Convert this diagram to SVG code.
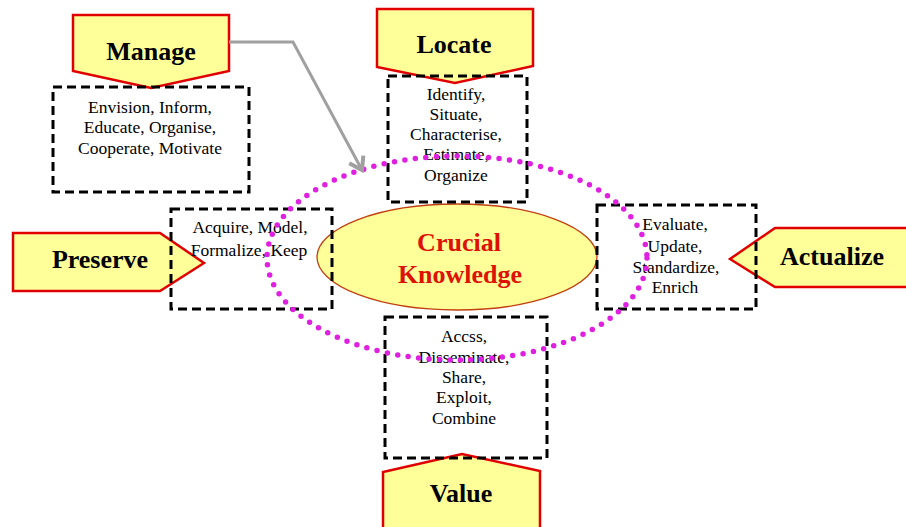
<svg xmlns="http://www.w3.org/2000/svg" width="906" height="527" viewBox="0 0 906 527">
<style>
.bg{fill:#ffffff}
.tag{fill:#ffff99;stroke:#e00000;stroke-width:2.5;stroke-linejoin:miter}
.box{fill:none;stroke:#000000;stroke-width:3;stroke-dasharray:9 5}
.hd{font-weight:bold;font-size:26px;fill:#000000;text-anchor:middle}
.tx{font-size:17.5px;fill:#000000;text-anchor:middle}
.core{fill:#ffff99;stroke:#c04010;stroke-width:1.3}
.coretx{font-weight:bold;font-size:26px;fill:#dd1100;text-anchor:middle}
.ring{fill:none;stroke:#e020e0;stroke-width:5.5;stroke-dasharray:0 10.5;stroke-linecap:round}
.conn{fill:none;stroke:#a0a0a0;stroke-width:3}
</style>
<defs>
<marker id="arr" markerUnits="userSpaceOnUse" markerWidth="30" markerHeight="30" viewBox="-4 -4 30 30" refX="14" refY="8" orient="auto">
<path d="M2,0 L14,8 L2,16" fill="none" stroke="#a0a0a0" stroke-width="4"/>
</marker>
</defs>
<rect class="bg" x="0" y="0" width="906" height="527"/>
<g font-family="Liberation Serif, DejaVu Serif, serif">
<g id="core">
<ellipse class="core" cx="457" cy="257" rx="140" ry="53"/>
<text class="coretx" x="459" y="251">Crucial</text>
<text class="coretx" x="460" y="283">Knowledge</text>
</g>

<g id="manage">
<polygon class="tag" points="73,15 229,15 229,71 151,88 73,71"/>
<text class="hd" x="151" y="60">Manage</text>
<rect class="box" x="53" y="87" width="196" height="105"/>
<text class="tx" x="150" y="113">Envision, Inform,</text>
<text class="tx" x="150" y="133">Educate, Organise,</text>
<text class="tx" x="150" y="154">Cooperate, Motivate</text>
</g>

<g id="locate">
<polygon class="tag" points="377,9 533,9 533,66 455,83 377,67"/>
<text class="hd" x="454" y="53">Locate</text>
<rect class="box" x="388" y="76" width="139" height="126"/>
<text class="tx" x="456" y="100">Identify,</text>
<text class="tx" x="456" y="120">Situate,</text>
<text class="tx" x="456" y="140">Characterise,</text>
<text class="tx" x="456" y="160">Estimate,</text>
<text class="tx" x="456" y="181">Organize</text>
</g>

<g id="preserve">
<polygon class="tag" points="13,233 160,233 204,263 160,291 13,291"/>
<text class="hd" x="100" y="268">Preserve</text>
<rect class="box" x="171" y="209" width="161" height="100"/>
<text class="tx" x="250" y="233">Acquire, Model,</text>
<text class="tx" x="249" y="256">Formalize, Keep</text>
</g>

<g id="actualize">
<polygon class="tag" points="915,228 775,228 730,259 775,287 915,287"/>
<text class="hd" x="832" y="265">Actualize</text>
<rect class="box" x="597" y="205" width="159" height="104"/>
<text class="tx" x="675" y="230">Evaluate,</text>
<text class="tx" x="675" y="252">Update,</text>
<text class="tx" x="676" y="273">Standardize,</text>
<text class="tx" x="675" y="293">Enrich</text>
</g>

<g id="value">
<polygon class="tag" points="383,535 383,472 462,454 540,471 540,535"/>
<text class="hd" x="461" y="502">Value</text>
<rect class="box" x="385" y="317" width="162" height="141"/>
<text class="tx" x="464" y="342">Accss,</text>
<text class="tx" x="464" y="363">Disseminate,</text>
<text class="tx" x="464" y="383">Share,</text>
<text class="tx" x="464" y="403">Exploit,</text>
<text class="tx" x="464" y="424">Combine</text>
</g>
</g>
<g id="ring">
<ellipse class="ring" cx="457" cy="258" rx="190" ry="102"/>
</g>

<g id="connectors">
<path class="conn" d="M229,42 L293,42 L362,170" marker-end="url(#arr)"/>
</g>
</svg>
